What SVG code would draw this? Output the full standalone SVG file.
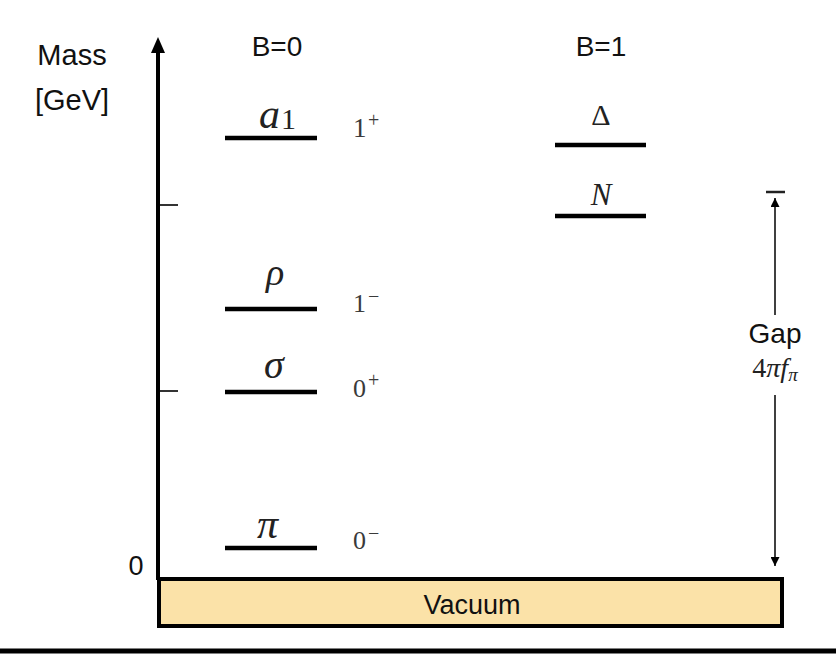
<svg xmlns="http://www.w3.org/2000/svg" width="836" height="654" viewBox="0 0 836 654">
<style>
.sans{font-family:"Liberation Sans",Arial,sans-serif;fill:#111}
.math{font-family:"Liberation Serif","Times New Roman",serif;font-style:italic;fill:#222}
.up{font-family:"Liberation Serif","Times New Roman",serif;fill:#222}
.spin{font-family:"Liberation Serif","Times New Roman",serif;fill:#3a3a3a}
.level{stroke:#000;stroke-width:4.5}
.tick{stroke:#333;stroke-width:2}
.gap{stroke:#000;stroke-width:1.5;fill:none}
</style>
<defs>
<marker id="ah" viewBox="0 0 10 10" refX="10" refY="5" markerWidth="9" markerHeight="9" markerUnits="userSpaceOnUse" orient="auto">
<path d="M0,0 L10,5 L0,10 z" fill="#000"/>
</marker>
</defs>
<rect width="836" height="654" fill="#fff"/>

<g id="axis">
<line x1="158" y1="50" x2="158" y2="580" stroke="#000" stroke-width="4"/>
<polygon points="158,37 151,53 165,53" fill="#000"/>
<line class="tick" x1="160" y1="205" x2="178" y2="205"/>
<line class="tick" x1="160" y1="391" x2="178" y2="391"/>
<text class="sans" x="72" y="65" font-size="29" text-anchor="middle">Mass</text>
<text class="sans" x="72" y="110" font-size="29" text-anchor="middle">[GeV]</text>
<text class="sans" x="136" y="575" font-size="27" text-anchor="middle">0</text>
</g>

<g id="headers">
<text class="sans" x="277" y="56" font-size="28" text-anchor="middle">B=0</text>
<text class="sans" x="601" y="56" font-size="28" text-anchor="middle">B=1</text>
</g>

<g id="level-a1">
<line class="level" x1="225" y1="138" x2="317" y2="138"/>
<text class="math" x="259" y="128" font-size="42">a</text>
<text class="up" x="281" y="129" font-size="30">1</text>
<text class="spin" x="353" y="137" font-size="27">1</text>
<text class="spin" x="368" y="127" font-size="20">+</text>
</g>

<g id="level-rho">
<line class="level" x1="225" y1="309" x2="317" y2="309"/>
<text class="math" x="266" y="285" font-size="38">ρ</text>
<text class="spin" x="353" y="312" font-size="26">1</text>
<text class="spin" x="368" y="303" font-size="20">−</text>
</g>

<g id="level-sigma">
<line class="level" x1="225" y1="392" x2="317" y2="392"/>
<text class="math" x="264" y="378" font-size="40">σ</text>
<text class="spin" x="353" y="397" font-size="26">0</text>
<text class="spin" x="368" y="387" font-size="20">+</text>
</g>

<g id="level-pi">
<line class="level" x1="225" y1="548" x2="317" y2="548"/>
<text class="math" x="257" y="538" font-size="42">π</text>
<text class="spin" x="353" y="549" font-size="26">0</text>
<text class="spin" x="368" y="540" font-size="20">−</text>
</g>

<g id="level-delta">
<line class="level" x1="555" y1="145" x2="646" y2="145"/>
<text class="up" x="601" y="125" font-size="30" text-anchor="middle">Δ</text>
</g>

<g id="level-N">
<line class="level" x1="555" y1="216" x2="646" y2="216"/>
<text class="math" x="601" y="205" font-size="31" text-anchor="middle">N</text>
</g>

<g id="gap-label">
<line x1="766" y1="192" x2="785" y2="192" stroke="#222" stroke-width="2.5"/>
<text class="sans" x="775" y="343" font-size="28" text-anchor="middle">Gap</text>
<text class="up" x="775" y="377" font-size="28" text-anchor="middle"><tspan>4</tspan><tspan font-style="italic">π</tspan><tspan font-style="italic">f</tspan><tspan font-style="italic" font-size="19" dy="4">π</tspan></text>
</g>

<g id="connectors">
<line class="gap" x1="775" y1="315" x2="775" y2="198" marker-end="url(#ah)"/>
<line class="gap" x1="775" y1="395" x2="775" y2="566" marker-end="url(#ah)"/>
</g>

<g id="vacuum">
<rect x="159" y="579" width="623" height="47" fill="#FBE2A8" stroke="#000" stroke-width="4"/>
<text class="sans" x="472" y="614" font-size="27" text-anchor="middle">Vacuum</text>
</g>

<line x1="0" y1="651" x2="836" y2="651" stroke="#000" stroke-width="5"/>
</svg>
